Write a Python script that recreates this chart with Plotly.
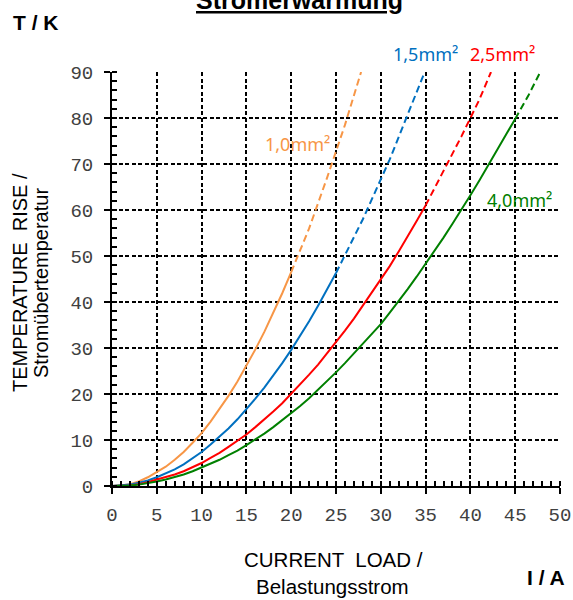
import plotly.graph_objects as go

# ---------------- data ----------------
I_1_0_solid = list(range(0, 21))
T_1_0_solid = [0, 0.1, 0.4, 1.0, 1.9, 3.0, 4.2, 5.7, 7.4, 9.4, 11.5, 14.0, 16.7, 19.6,
               22.7, 26.1, 29.7, 33.5, 37.6, 41.9, 46.5]
I_1_0_dash = [20, 22, 24, 26, 27.8]
T_1_0_dash = [46.5, 56, 67, 78.5, 90]

I_1_5_solid = list(range(0, 26))
T_1_5_solid = [0, 0.1, 0.3, 0.7, 1.2, 1.9, 2.7, 3.6, 4.7, 6.0, 7.4, 9.0, 10.7, 12.5,
               14.5, 16.7, 19.0, 21.4, 24.0, 26.7, 29.6, 32.6, 35.8, 39.2, 42.6, 46.3]
I_1_5_dash = [25, 28, 31, 33, 34.9]
T_1_5_dash = [46.3, 58, 71, 80.6, 90]

I_2_5_solid = list(range(0, 36))
T_2_5_solid = [0, 0, 0.1, 0.4, 0.8, 1.4, 1.9, 2.5, 3.2, 4.1, 5.0, 6.1, 7.2, 8.5, 9.8,
               11.2, 12.8, 14.4, 16.2, 18.0, 20.0, 22.0, 24.2, 26.4, 28.8, 31.2, 33.8,
               36.4, 39.2, 42.0, 44.8, 47.8, 51.0, 54.2, 57.6, 61.0]
I_2_5_dash = [35, 37, 39, 41, 42.3]
T_2_5_dash = [61.0, 68.5, 76, 84, 90]

I_4_0_solid = list(range(0, 46))
T_4_0_solid = [0, 0, 0.1, 0.3, 0.6, 1.0, 1.4, 1.9, 2.5, 3.2, 4.0, 4.8, 5.7, 6.7, 7.7,
               8.9, 10.1, 11.4, 12.8, 14.3, 15.9, 17.4, 19.1, 20.9, 22.7, 24.7, 26.7,
               28.8, 30.9, 33.1, 35.2, 37.7, 40.2, 42.8, 45.5, 48.3, 51.1, 54.0, 57.0,
               60.0, 63.2, 66.4, 69.7, 73.0, 76.4, 79.8]
I_4_0_dash = [45, 46.5, 47.8]
T_4_0_dash = [79.8, 85, 90]

series = [
    ("1,0mm²", "#F79646", I_1_0_solid, T_1_0_solid, I_1_0_dash, T_1_0_dash),
    ("1,5mm²", "#0070C0", I_1_5_solid, T_1_5_solid, I_1_5_dash, T_1_5_dash),
    ("2,5mm²", "#FF0000", I_2_5_solid, T_2_5_solid, I_2_5_dash, T_2_5_dash),
    ("4,0mm²", "#008000", I_4_0_solid, T_4_0_solid, I_4_0_dash, T_4_0_dash),
]

# ---------------- figure ----------------
W, H = 573, 600
L, R, T, B = 112, 13, 72, 114
PW, PH = W - L - R, H - T - B


def px(xp, yp):
    return (xp - L) / PW, (H - B - yp) / PH


fig = go.Figure()
for name, color, xs, ys, xd, yd in series:
    fig.add_trace(go.Scatter(x=xs, y=ys, mode="lines", name=name,
                             line=dict(color=color, width=2), showlegend=False))
    fig.add_trace(go.Scatter(x=xd, y=yd, mode="lines", name=name,
                             line=dict(color=color, width=2, dash="7px,4px"),
                             showlegend=False))

label_pos = {"1,0mm²": (297, 144), "1,5mm²": (425, 54), "2,5mm²": (502, 54),
             "4,0mm²": (519, 200)}
annotations = []
for name, color, *_ in series:
    x, y = px(*label_pos[name])
    annotations.append(dict(x=x, y=y, xref="paper", yref="paper", text=name,
                            showarrow=False, xanchor="center", yanchor="middle",
                            font=dict(family="Noto Sans", size=18, color=color)))


def ann(text, xp, yp, size, bold=False, angle=0, xanchor="center"):
    x, y = px(xp, yp)
    annotations.append(dict(x=x, y=y, xref="paper", yref="paper",
                            text=f"<b>{text}</b>" if bold else text,
                            showarrow=False, xanchor=xanchor, yanchor="middle",
                            textangle=angle,
                            font=dict(family="Liberation Sans", size=size, color="black")))


ann("<u>Stromerwärmung</u>", 299, 0, 25, bold=True)
ann("T / K", 36, 23, 21, bold=True)
ann("I / A", 546, 577, 21, bold=True)
ann("CURRENT  LOAD /", 333, 559, 20.5)
ann("Belastungsstrom", 332, 586, 20.5)
ann("TEMPERATURE  RISE /", 20, 283, 20, angle=-90)
ann("Stromübertemperatur", 41, 283, 20, angle=-90)

axis_common = dict(
    showline=True, linecolor="black", linewidth=2, automargin=False,
    ticks="outside", ticklen=6, tickwidth=2, tickcolor="black",
    showgrid=True, gridcolor="black", gridwidth=1.5, griddash="4px,2.5px",
    zeroline=False,
    tickfont=dict(family="Liberation Mono", size=19, color="#404040"),
)

fig.update_layout(
    width=W, height=H, autosize=False,
    margin=dict(l=L, r=R, t=T, b=B),
    paper_bgcolor="white", plot_bgcolor="white",
    xaxis=dict(range=[0, 50], tickmode="linear", tick0=0, dtick=5,
               minor=dict(dtick=1, ticks="inside", ticklen=5, tickwidth=1.5,
                          tickcolor="black", showgrid=False),
               ticklabelstandoff=4, **axis_common),
    yaxis=dict(range=[0, 90], tickmode="linear", tick0=0, dtick=10,
               minor=dict(dtick=2, ticks="inside", ticklen=5, tickwidth=1.5,
                          tickcolor="black", showgrid=False),
               ticklabelstandoff=7, **axis_common),
    annotations=annotations,
)

fig.write_html("out.html")
